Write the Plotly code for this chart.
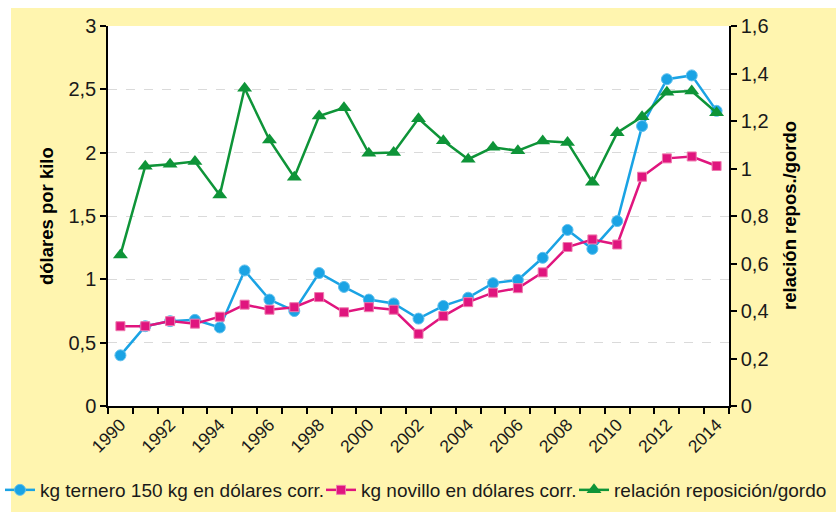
import plotly.graph_objects as go

years = list(range(1990, 2015))
ternero = [0.40, 0.63, 0.67, 0.68, 0.62, 1.07, 0.84, 0.75, 1.05, 0.94, 0.84, 0.81, 0.69,
           0.79, 0.855, 0.97, 0.995, 1.17, 1.39, 1.24, 1.46, 2.21, 2.58, 2.61, 2.33]
novillo = [0.63, 0.63, 0.67, 0.65, 0.705, 0.80, 0.76, 0.78, 0.86, 0.74, 0.78, 0.76, 0.57,
           0.71, 0.82, 0.895, 0.93, 1.055, 1.255, 1.315, 1.275, 1.81, 1.955, 1.97, 1.895]
relacion = [0.636, 1.01, 1.018, 1.029, 0.888, 1.338, 1.12, 0.963, 1.221, 1.256, 1.064, 1.067, 1.21,
            1.117, 1.039, 1.089, 1.075, 1.116, 1.11, 0.942, 1.151, 1.218, 1.321, 1.326, 1.235]
tick_years = list(range(1990, 2015, 2))
tick_labels = [str(y) for y in tick_years]

BLUE = "#1AA3E4"
PINK = "#E0157E"
GREEN = "#0E9438"
YELLOW = "#FFF5AF"
FONT = "Liberation Sans, Arial, sans-serif"
TXT = "#1a1a1a"

fig = go.Figure()
fig.add_trace(go.Scatter(
    x=years, y=ternero, name="kg ternero 150 kg en dólares corr.", legend="legend",
    mode="lines+markers", line=dict(color=BLUE, width=2.5),
    marker=dict(symbol="circle", size=11, color=BLUE, line=dict(color="#5FC0EE", width=1))))
fig.add_trace(go.Scatter(
    x=years, y=novillo, name="kg novillo en dólares corr.", legend="legend2",
    mode="lines+markers", line=dict(color=PINK, width=2.5),
    marker=dict(symbol="square", size=9, color=PINK, line=dict(color="#EE7AAE", width=1))))
fig.add_trace(go.Scatter(
    x=years, y=relacion, name="relación reposición/gordo", yaxis="y2", legend="legend3",
    mode="lines+markers", line=dict(color=GREEN, width=2.5),
    marker=dict(symbol="triangle-up", size=13, color=GREEN, line=dict(width=0))))

L, R, T, B = 108, 107, 26, 106
W, H = 836, 512
pw = W - L - R
ph = H - T - B


def leg(text_left_px):
    return dict(orientation="h", xref="container", yref="container",
                x=(text_left_px - 42) / W, xanchor="left",
                y=(H - 490) / H, yanchor="middle",
                font=dict(family=FONT, size=19, color=TXT),
                bgcolor="rgba(0,0,0,0)", itemwidth=30)


fig.update_layout(
    width=W, height=H,
    margin=dict(l=L, r=R, t=T, b=B, pad=0, autoexpand=False),
    paper_bgcolor="white",
    plot_bgcolor="white",
    separators=",.",
    font=dict(family=FONT, size=18, color=TXT),
    showlegend=True,
    legend=leg(36),
    legend2=leg(363),
    legend3=leg(616),
    xaxis=dict(
        range=[1989.5, 2014.5], tickvals=tick_years, ticktext=tick_labels,
        tickangle=-45, ticks="", showgrid=False, zeroline=False,
        showline=True, linecolor="black", linewidth=1.5, automargin=False,
        tickfont=dict(family=FONT, size=17.5, color=TXT),
        minor=dict(ticks="outside", tick0=1989.5, dtick=1, ticklen=6,
                   tickcolor="black", tickwidth=1.5, showgrid=False)),
    yaxis=dict(
        range=[0, 3], dtick=0.5, tick0=0, ticks="outside", ticklen=6,
        tickcolor="black", tickwidth=1.5, automargin=False,
        showline=True, linecolor="black", linewidth=1.5,
        showgrid=True, gridcolor="#DADADA", griddash="dash", gridwidth=1.2,
        zeroline=False,
        tickfont=dict(family=FONT, size=20, color=TXT)),
    yaxis2=dict(
        range=[0, 1.6], dtick=0.2, tick0=0, overlaying="y", side="right",
        ticks="outside", ticklen=6, tickcolor="black", tickwidth=1.5,
        showline=True, linecolor="black", linewidth=1.5, automargin=False,
        showgrid=False, zeroline=False,
        tickfont=dict(family=FONT, size=20, color=TXT)),
    shapes=[dict(type="rect", xref="paper", yref="paper", layer="below",
                 x0=-(L - 11) / pw, x1=(W - L) / pw + 0.01,
                 y0=-(B + 2) / ph, y1=(T - 8) / ph + 1,
                 fillcolor=YELLOW, line=dict(width=0)),
            dict(type="rect", xref="paper", yref="paper", layer="below",
                 x0=0, x1=1, y0=0, y1=1, fillcolor="white", line=dict(width=0))],
    annotations=[
        dict(text="<b>dólares por kilo</b>", xref="paper", yref="paper",
             x=(46 - L) / pw, y=0.5, xanchor="center", yanchor="middle",
             textangle=-90, showarrow=False,
             font=dict(family=FONT, size=18.5, color="black")),
        dict(text="<b>relación repos./gordo</b>", xref="paper", yref="paper",
             x=(789 - L) / pw, y=0.5, xanchor="center", yanchor="middle",
             textangle=-90, showarrow=False,
             font=dict(family=FONT, size=18.5, color="black")),
    ],
)

fig.write_html("out.html", config={"displayModeBar": False},
               post_script="document.body.style.margin='0';document.body.style.overflow='hidden';")
